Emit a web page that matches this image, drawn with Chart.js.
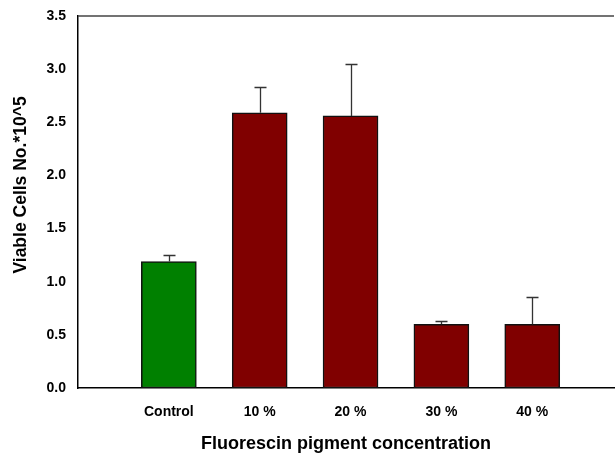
<!DOCTYPE html>
<html>
<head>
<meta charset="utf-8">
<script src="https://cdn.jsdelivr.net/npm/chart.js@4"></script>
<style>
  html, body { margin: 0; padding: 0; background: #fff; }
  #wrap { width: 615px; height: 455px; }
</style>
</head>
<body>
<div id="wrap"><canvas id="chart" width="615" height="455"></canvas></div>
<script>
const categories = ["Control", "10 %", "20 %", "30 %", "40 %"];
const positions = [1, 2, 3, 4, 5];
const viableCells = [1.19, 2.59, 2.56, 0.60, 0.60];
const errorTops = [1.25, 2.83, 3.05, 0.63, 0.86];
const barColors = ["#008000", "#800000", "#800000", "#800000", "#800000"];
const yTicks = [0, 0.5, 1, 1.5, 2, 2.5, 3, 3.5];

const FONT = "'Liberation Sans', Arial, sans-serif";

// error bars (upper only) + top frame line
const errorBars = {
    id: "errorBars",
    afterDatasetsDraw(chart) {
        const ctx = chart.ctx;
        const xs = chart.scales.x;
        const ys = chart.scales.y;
        ctx.save();
        ctx.strokeStyle = "#333";
        ctx.lineWidth = 1.3;
        positions.forEach((p, i) => {
            const x = Math.round(xs.getPixelForValue(p)) + 0.5;
            const y0 = ys.getPixelForValue(viableCells[i]);
            const y1 = Math.round(ys.getPixelForValue(errorTops[i])) + 0.5;
            ctx.beginPath();
            ctx.moveTo(x, y0);
            ctx.lineTo(x, y1);
            ctx.moveTo(x - 6, y1);
            ctx.lineTo(x + 6, y1);
            ctx.stroke();
        });
        const a = chart.chartArea;
        ctx.strokeStyle = "#444";
        ctx.lineWidth = 1.5;
        ctx.beginPath();
        ctx.moveTo(a.left, a.top);
        ctx.lineTo(a.right, a.top);
        ctx.stroke();
        ctx.restore();
    }
};

new Chart(document.getElementById("chart"), {
    type: "bar",
    data: {
        datasets: [{
            data: positions.map((p, i) => ({ x: p, y: viableCells[i] })),
            backgroundColor: barColors,
            borderColor: "#111",
            borderWidth: 1.5,
            borderSkipped: false,
            barThickness: 55
        }]
    },
    options: {
        responsive: false,
        animation: false,
        layout: { padding: { top: 16, right: 1, left: 0, bottom: 0 } },
        plugins: { legend: { display: false }, tooltip: { enabled: false } },
        scales: {
            x: {
                type: "linear",
                offset: false,
                min: 0,
                max: 5.9,
                afterBuildTicks(scale) {
                    scale.ticks = positions.map(v => ({ value: v }));
                },
                afterFit(scale) { scale.height = 67; },
                ticks: {
                    callback: (v) => categories[positions.indexOf(v)] || "",
                    color: "#000",
                    font: { family: FONT, size: 14, weight: "bold" },
                    padding: 10,
                    maxRotation: 0
                },
                grid: { display: false, offset: false, tickLength: 6, tickColor: "#000" },
                border: { display: true, color: "#000", width: 1.5 },
                title: {
                    display: true,
                    text: "Fluorescin pigment concentration",
                    color: "#000",
                    font: { family: FONT, size: 18, weight: "bold" },
                    padding: { top: 8, bottom: 0 }
                }
            },
            y: {
                min: 0,
                max: 3.5,
                afterBuildTicks(scale) {
                    scale.ticks = yTicks.map(v => ({ value: v }));
                },
                afterFit(scale) { scale.width = 78; },
                ticks: {
                    callback: (v) => v.toFixed(1),
                    color: "#000",
                    font: { family: FONT, size: 14, weight: "bold" },
                    padding: 6
                },
                grid: { display: false, tickLength: 6, tickColor: "#000" },
                border: { display: true, color: "#000", width: 1.5 },
                title: {
                    display: true,
                    // leading spaces nudge the rotated title upward like the original
                    text: "       Viable Cells No.*10^5",
                    color: "#000",
                    font: { family: FONT, size: 17.5, weight: "bold" },
                    padding: { top: 11, bottom: 0 }
                }
            }
        }
    },
    plugins: [errorBars]
});
</script>
</body>
</html>
